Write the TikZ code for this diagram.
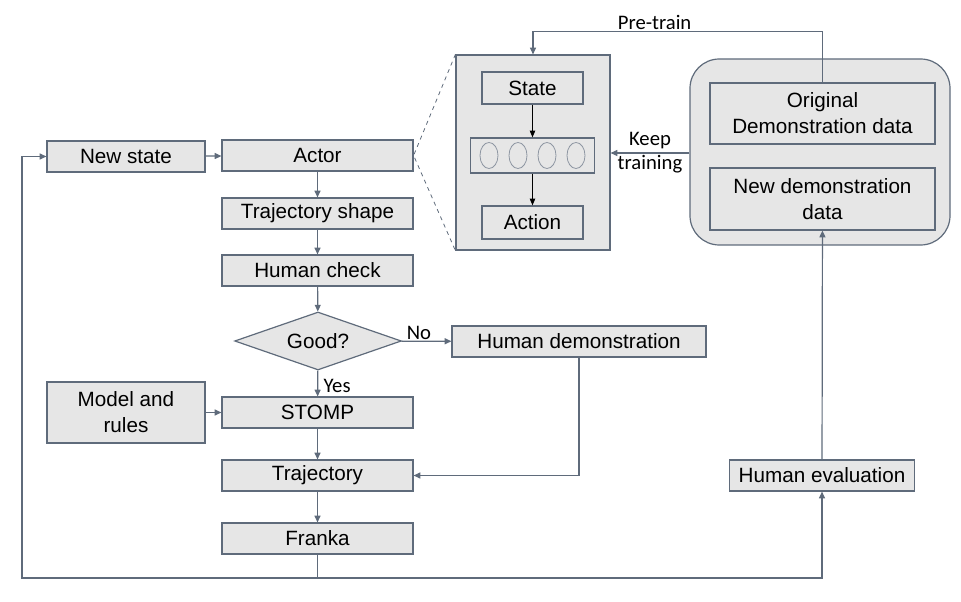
\documentclass[tikz,border=0pt]{standalone}
\usepackage{fontspec}
\setmainfont{Liberation Sans}
\newfontfamily\labelfont{Carlito}
\usetikzlibrary{positioning,arrows.meta,shapes.geometric}
\definecolor{boxgray}{HTML}{E6E6E6}
\definecolor{edgeblue}{HTML}{5F6B7B}

\begin{document}
\begin{tikzpicture}[x=0.75pt, y=-0.75pt,
  font=\fontsize{15.5}{19.5}\selectfont,
  box/.style={draw=edgeblue, fill=boxgray, line width=0.9pt, minimum width=143.25pt, minimum height=23.25pt, inner sep=2pt, align=center},
  small/.style={box, minimum width=118.5pt},
  decision/.style={diamond, draw=edgeblue, fill=boxgray, line width=0.9pt, shape aspect=2.9, minimum width=125pt, minimum height=43.5pt, inner sep=0pt},
  neuron/.style={ellipse, draw=edgeblue!70, line width=0.6pt, minimum width=13.5pt, minimum height=19.5pt, inner sep=0pt},
  arr/.style={-{Triangle[length=5pt,width=4.5pt]}, draw=edgeblue, line width=0.9pt},
  inarr/.style={-{Triangle[length=5pt,width=4pt]}, draw=black, line width=0.7pt},
  lbl/.style={font=\labelfont\fontsize{15.5}{18}\selectfont, inner sep=1pt}]
\useasboundingbox (0,0) rectangle (961,602);

% main loop
\node[box] (actor) at (317.5,155.5) {Actor};
\node[small] (newstate) at (126,156.5) {New state};
\node[box] (shape) at (317.5,213.5) {Trajectory shape};
\node[box] (check) at (317.5,270.5) {Human check};
\node[decision] (good) at (318,341) {Good?};
\node[box] (stomp) at (317.5,412.5) {STOMP};
\node[small, minimum height=45.75pt] (model) at (126,412.5) {Model and\\rules};
\node[box] (traj) at (317.5,475.5) {Trajectory};
\node[box] (franka) at (317.5,538.5) {Franka};
\node[box, minimum width=190.5pt] (demo) at (579,341.5) {Human demonstration};
\node[box, minimum width=138.75pt] (eval) at (822,475.5) {Human evaluation};

% actor network
\node[box, minimum width=115.5pt, minimum height=146.25pt] (panel) at (533,152.5) {};
\node[box, minimum width=75.75pt, minimum height=24pt] (state) at (532.5,88) {State};
\node[box, minimum width=93pt, minimum height=26.25pt] (layer) at (532.5,155.5) {};
\foreach \i in {0,...,3}
  \node[neuron] (n\i) at (489+29*\i,155.5) {};
\node[box, minimum width=75.75pt, minimum height=24.75pt] (action) at (532.5,222.5) {Action};

% demonstration data
\node[draw=edgeblue, fill=boxgray, line width=0.9pt, rounded corners=22pt, minimum width=195pt, minimum height=139.5pt] (data) at (820,152) {};
\node[box, minimum width=168.75pt, minimum height=45.75pt] (orig) at (822.5,113.5) {Original\\Demonstration data};
\node[box, minimum width=168.75pt, minimum height=46.5pt] (newdata) at (822.5,199) {New demonstration\\data};

\coordinate (bl) at (22,578);
\coordinate (keep) at (650,153);

\draw[arr] (newstate) -- (actor);
\draw[arr] (actor) -- (shape);
\draw[arr] (shape) -- (check);
\draw[arr] (check) -- (good);
\draw[arr] (good) -- node[lbl, above, pos=0.35] {No} (demo);
\draw[arr] (good) -- node[lbl, right=3pt, pos=0.6] {Yes} (stomp);
\draw[arr] (model) -- (stomp);
\draw[arr] (stomp) -- (traj);
\draw[arr] (demo.south) |- (traj.east);
\draw[arr] (traj) -- (franka);
\draw[arr] (franka.south) -- (franka.south |- bl) -- (bl) |- (newstate.west);
\draw[arr] (franka.south |- bl) -| (eval.south);
\draw[arr] (eval) -- (newdata);
\draw[arr] (orig.north) -- ++(0,-51) -| node[lbl, above, pos=0.29] {Pre-train} (panel.north);
\draw[arr] (data.west |- keep) -- node[lbl, align=center, font=\labelfont\fontsize{15.5}{18}\selectfont] {Keep\\training} (panel.east |- keep);
\draw[inarr] (state) -- (layer);
\draw[inarr] (layer) -- (action);
\draw[edgeblue, dashed, line width=0.6pt] (panel.north west) -- (actor.east) -- (panel.south west);
\end{tikzpicture}
\end{document}
